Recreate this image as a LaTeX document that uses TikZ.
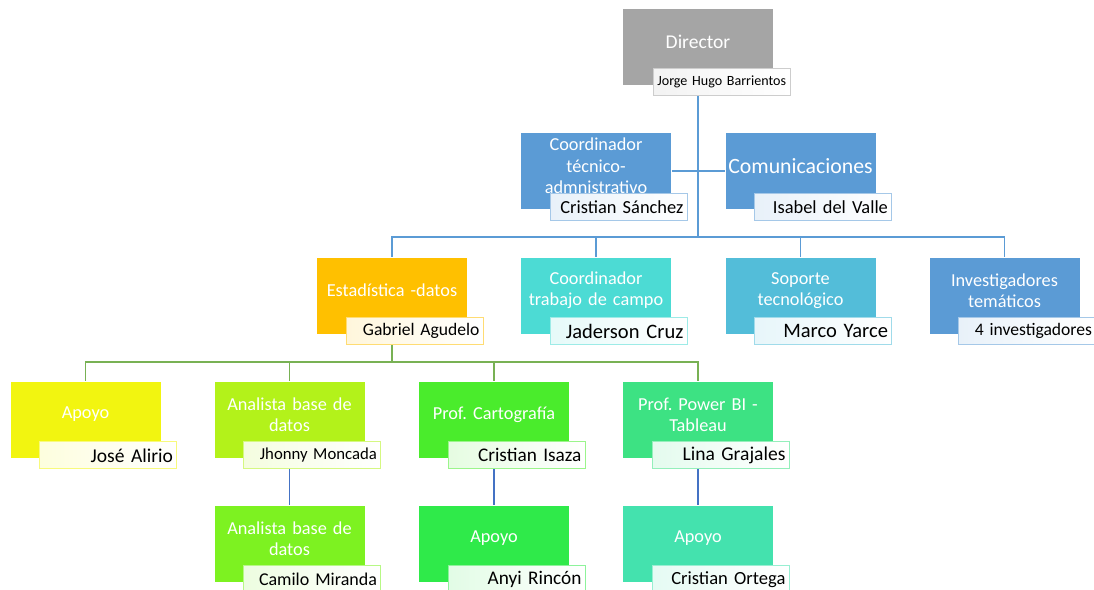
\documentclass[tikz,border=0pt]{standalone}
\usepackage{fontspec}
\setmainfont{Carlito}
\usepackage{tikz}
\usetikzlibrary{positioning, calc, backgrounds}
\definecolor{cgray}{HTML}{A5A5A5}
\definecolor{cblue}{HTML}{5B9BD5}
\definecolor{corange}{HTML}{FFC000}
\definecolor{cturq}{HTML}{4CDBD4}
\definecolor{csky}{HTML}{53BDD9}
\definecolor{cyell}{HTML}{F2F510}
\definecolor{clime}{HTML}{B3F21A}
\definecolor{cgreen}{HTML}{4AEC2C}
\definecolor{cmint}{HTML}{3DE283}
\definecolor{cleaf}{HTML}{7DF221}
\definecolor{cgrass}{HTML}{2FEA4A}
\definecolor{caqua}{HTML}{44E2AE}
\definecolor{lblue}{HTML}{5B9BD5}
\definecolor{lgreen}{HTML}{78B154}
\definecolor{ldblue}{HTML}{4472C4}
\newcommand{\fs}[2]{\fontsize{#1}{#2}\selectfont}
\frenchspacing

\begin{document}
\begin{tikzpicture}[
  x=0.025cm, y=-0.025cm,
  unit/.style={fill=#1, draw=white, line width=0.4pt,
               minimum width=3.775cm, minimum height=1.925cm, inner sep=0pt},
  title/.style={text=white, align=center, text width=3.75cm, inner sep=0pt,
                yshift=0.125cm, font=\fs{13}{15.2}},
  who/.style={draw=#1!55, left color=#1!14, right color=white, line width=0.8pt,
              anchor=north east, text width=3.235cm, align=right,
              inner xsep=0.095cm, inner ysep=0pt, minimum height=0.675cm,
              font=\fs{13.1}{14}},
  link/.style={draw=#1, line width=1pt},
]
  \useasboundingbox (0,0) rectangle (1094,590);

  % --- direction ----------------------------------------------------
  \node[unit=cgray, label={[title, font=\fs{13.9}{16}]center:Director}] (dir) at (698,46.5) {};
  \node[who=cgray, font=\fs{10}{12}, align=center, text width=3.425cm, inner xsep=0pt]
    (jorge) at ([shift={(17,-17)}]dir.south east) {Jorge Hugo Barrientos};

  \node[unit=cblue, label={[title]center:Coordinador\\técnico-\\admnistrativo}] (ctec) at (596,171) {};
  \node[who=cblue] (csan) at ([shift={(16,-17)}]ctec.south east) {Cristian Sánchez};
  \node[unit=cblue, label={[title, font=\fs{15.5}{17}]center:Comunicaciones}] (com) at (800.5,171) {};
  \node[who=cblue] (isab) at ([shift={(16,-17)}]com.south east) {Isabel del Valle};

  % --- second level -------------------------------------------------
  \node[unit=corange, label={[title]center:Estadística -datos}] (est) at (392,295.5) {};
  \node[who=corange, font=\fs{12.5}{14}] (gabr) at ([shift={(16,-17)}]est.south east) {Gabriel Agudelo};
  \node[unit=cturq, label={[title]center:Coordinador\\trabajo de campo}] (camp) at (596,295.5) {};
  \node[who=cturq, font=\fs{14.6}{16}] (jade) at ([shift={(16,-17)}]camp.south east) {Jaderson Cruz};
  \node[unit=csky, label={[title]center:Soporte\\tecnológico}] (sop) at (800.5,295.5) {};
  \node[who=csky, font=\fs{14.6}{16}] (marc) at ([shift={(16,-17)}]sop.south east) {Marco Yarce};
  \node[unit=cblue, label={[title]center:Investigadores\\temáticos}] (inv) at (1004.5,295.5) {};
  \node[who=cblue, font=\fs{12.5}{14}] (cuat) at ([shift={(16,-17)}]inv.south east) {4 investigadores};

  % --- third level --------------------------------------------------
  \node[unit=cyell, label={[title]center:Apoyo}] (apo1) at (85.5,419.5) {};
  \node[who=cyell, font=\fs{13.9}{15}] (jose) at ([shift={(16,-17)}]apo1.south east) {José Alirio};
  \node[unit=clime, label={[title]center:Analista base de\\datos}] (ana1) at (289.5,419.5) {};
  \node[who=clime, font=\fs{11.9}{13}] (jhon) at ([shift={(16,-17)}]ana1.south east) {Jhonny Moncada};
  \node[unit=cgreen, label={[title]center:Prof. Cartografía}] (cart) at (494,419.5) {};
  \node[who=cgreen, font=\fs{13.7}{15}] (isaz) at ([shift={(16,-17)}]cart.south east) {Cristian Isaza};
  \node[unit=cmint, label={[title]center:Prof. Power BI -\\Tableau}] (pbi) at (698,419.5) {};
  \node[who=cmint, font=\fs{13.9}{15}] (lina) at ([shift={(16,-17)}]pbi.south east) {Lina Grajales};

  % --- fourth level -------------------------------------------------
  \node[unit=cleaf, label={[title]center:Analista base de\\datos}] (ana2) at (289.5,543.5) {};
  \node[who=cleaf, font=\fs{12.8}{14}] (cami) at ([shift={(16,-17)}]ana2.south east) {Camilo Miranda};
  \node[unit=cgrass, label={[title]center:Apoyo}] (apo2) at (494,543.5) {};
  \node[who=cgrass, font=\fs{13.7}{15}] (anyi) at ([shift={(16,-17)}]apo2.south east) {Anyi Rincón};
  \node[unit=caqua, label={[title]center:Apoyo}] (apo3) at (698,543.5) {};
  \node[who=caqua, font=\fs{13.2}{15}] (orte) at ([shift={(16,-17)}]apo3.south east) {Cristian Ortega};

  % --- connectors ---------------------------------------------------
  \coordinate (bus1) at (698,237);
  \coordinate (bus2) at (392,362);
  \begin{scope}[on background layer]
    \draw[link=lblue] (dir.south) -- (bus1);
    \draw[link=lblue] (ctec.east) -- (com.west);
    \foreach \n in {est,camp,sop,inv}
      \draw[link=lblue] (bus1) -| (\n.north);
    \draw[link=lgreen] (est.south) -- (bus2);
    \foreach \n in {apo1,ana1,cart,pbi}
      \draw[link=lgreen] (bus2) -| (\n.north);
    \draw[link=ldblue] (ana1.south) -- (ana2.north);
    \draw[link=ldblue] (cart.south) -- (apo2.north);
    \draw[link=ldblue] (pbi.south) -- (apo3.north);
  \end{scope}
\end{tikzpicture}
\end{document}
